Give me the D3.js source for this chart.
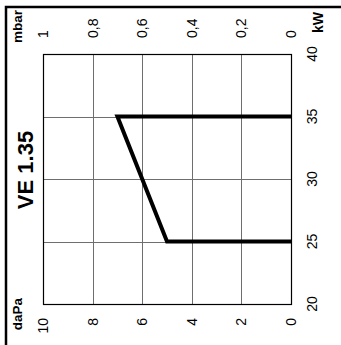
<!DOCTYPE html>
<html>
<head>
<meta charset="utf-8">
<script src="https://cdn.jsdelivr.net/npm/d3@7"></script>
<style>
  html, body { margin: 0; padding: 0; background: #fff; }
  svg { display: block; }
  text { font-family: "Liberation Sans", Arial, sans-serif; fill: #000; }
</style>
</head>
<body>
<script>
// Pressure axis (daPa, with matching mbar scale) and heat output axis (kW)
const daPaTicks = [10, 8, 6, 4, 2, 0];
const mbarLabels = ["1", "0,8", "0,6", "0,4", "0,2", "0"];
const kwTicks = [20, 25, 30, 35, 40];
const modelName = "VE 1.35";

// Operating curve: pressure (daPa) against output (kW)
const curvePressure = [0, 7, 5, 0];
const curveKw = [35, 35, 25, 25];

const W = 341, H = 345;
const svg = d3.select("body").append("svg").attr("width", W).attr("height", H);

const x = d3.scaleLinear().domain([10, 0]).range([43, 291]);
const y = d3.scaleLinear().domain([20, 40]).range([304, 54]);

// outer frame (top and left edges)
svg.append("path")
  .attr("d", `M6,${H} L6,7 L${W},7`)
  .attr("fill", "none").attr("stroke", "#000").attr("stroke-width", 2.5);

// grid
const grid = svg.append("g").attr("stroke", "#6e6e6e").attr("stroke-width", 1);
grid.selectAll("line.v").data(daPaTicks.slice(1, -1)).join("line")
  .attr("x1", d => Math.round(x(d)) + 0.5).attr("x2", d => Math.round(x(d)) + 0.5)
  .attr("y1", y(40)).attr("y2", y(20));
grid.selectAll("line.h").data(kwTicks.slice(1, -1)).join("line")
  .attr("y1", d => Math.round(y(d)) + 0.5).attr("y2", d => Math.round(y(d)) + 0.5)
  .attr("x1", x(10)).attr("x2", x(0));

// plot border
svg.append("rect")
  .attr("x", x(10) + 0.5).attr("y", y(40) + 0.5)
  .attr("width", x(0) - x(10)).attr("height", y(20) - y(40))
  .attr("fill", "none").attr("stroke", "#000").attr("stroke-width", 1.2);

// curve
const pts = curvePressure.map((p, i) => [p, curveKw[i]]);
svg.append("path")
  .datum(pts)
  .attr("d", d3.line().x(d => x(d[0])).y(d => y(d[1])))
  .attr("fill", "none").attr("stroke", "#000").attr("stroke-width", 4)
  .attr("stroke-linejoin", "miter");

// rotated text helper
function rtext(cx, cy, str, opts) {
  return svg.append("text")
    .attr("transform", `translate(${cx},${cy}) rotate(-90)`)
    .attr("text-anchor", opts.anchor || "middle")
    .attr("font-size", opts.size || 14)
    .attr("font-weight", opts.bold ? "bold" : "normal")
    .text(str);
}

// mbar labels (top)
mbarLabels.forEach((s, i) => rtext(x(daPaTicks[i]) + 5, 38, s, { anchor: "start" }));
// daPa labels (bottom)
daPaTicks.forEach(d => rtext(x(d) + 5, 318, String(d), { anchor: "end" }));
// kW labels (right)
kwTicks.forEach(d => rtext(317, y(d), String(d), {}));

// unit labels
rtext(22, 43, "mbar", { anchor: "start", bold: true, size: 13.5 });
rtext(22, 298, "daPa", { anchor: "end", bold: true, size: 13.5 });
rtext(323, 33, "kW", { anchor: "start", bold: true, size: 14 });

// model name
rtext(33, 170, modelName, { bold: true, size: 22 });
</script>
</body>
</html>
